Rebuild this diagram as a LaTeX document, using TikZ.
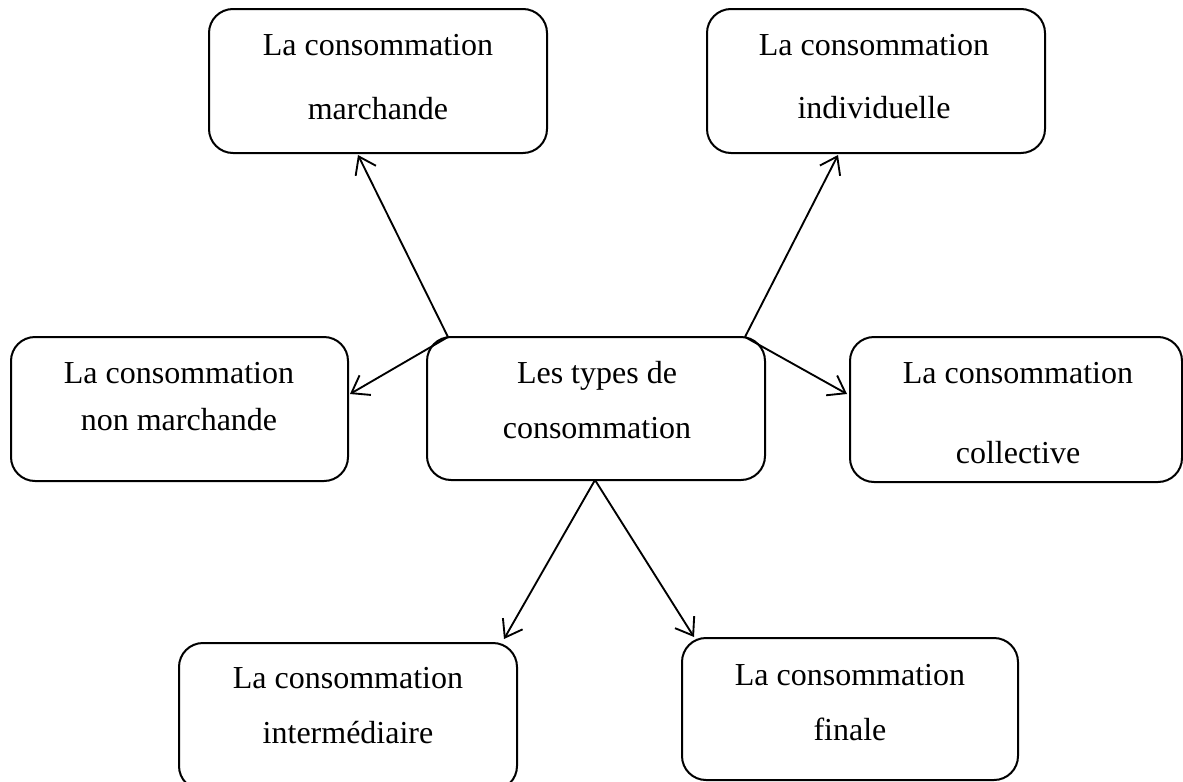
\documentclass[tikz,border=0pt]{standalone}
\usepackage{fontspec}
\setmainfont{Liberation Serif}
\usetikzlibrary{arrows.meta}
\begin{document}
\begin{tikzpicture}[x=0.75pt,y=-0.75pt,
 box/.style={draw, line width=1.5pt, rounded corners=18pt, inner sep=0pt},
 lbl/.style={anchor=base, inner sep=0pt, font=\fontsize{24pt}{28pt}\selectfont},
 arr/.style={line width=1.4pt, -{Straight Barb[length=12pt,width=17pt]}}]
\useasboundingbox (0,0) rectangle (1183,782);
\clip (0,0) rectangle (1183,782);
% boxes
\node[box, minimum width=253.5pt, minimum height=108pt] (b1) at (378,81) {};
\node[box, minimum width=253.5pt, minimum height=108pt] (b2) at (876,81) {};
\node[box, minimum width=252.75pt, minimum height=108pt] (b3) at (179.5,409) {};
\node[box, minimum width=253.5pt, minimum height=107.25pt] (b4) at (596,408.5) {};
\node[box, minimum width=249pt, minimum height=108.75pt] (b5) at (1016,409.5) {};
\node[box, minimum width=253.5pt, minimum height=110.25pt] (b6) at (348,716.5) {};
\node[box, minimum width=252pt, minimum height=106.5pt] (b7) at (850,709) {};
% labels
\node[lbl] (t1a) at (378,55) {La consommation};
\node[lbl] (t1b) at (378,119) {marchande};
\node[lbl] (t2a) at (874,55) {La consommation};
\node[lbl] (t2b) at (874,118) {individuelle};
\node[lbl] (t3a) at (179,383) {La consommation};
\node[lbl] (t3b) at (179,430) {non marchande};
\node[lbl] (t4a) at (597,383) {Les types de};
\node[lbl] (t4b) at (597,438) {consommation};
\node[lbl] (t5a) at (1018,383) {La consommation};
\node[lbl] (t5b) at (1018,463) {collective};
\node[lbl] (t6a) at (348,688) {La consommation};
\node[lbl] (t6b) at (348,743) {intermédiaire};
\node[lbl] (t7a) at (850,685) {La consommation};
\node[lbl] (t7b) at (850,740) {finale};
% connector points
\coordinate (s1) at (448,337);
\coordinate (s2) at (745,337);
\coordinate (s3) at (595,480);
\coordinate (e1) at (358,155);
\coordinate (e2) at (838,155);
\coordinate (e3) at (350,394);
\coordinate (e4) at (847,394);
\coordinate (e5) at (504,639);
\coordinate (e6) at (694,637);
% connectors
\draw[arr] (s1) -- (e1);
\draw[arr] (s2) -- (e2);
\draw[arr] (s1) -- (e3);
\draw[arr] (s2) -- (e4);
\draw[arr] (s3) -- (e5);
\draw[arr] (s3) -- (e6);
\end{tikzpicture}
\end{document}
